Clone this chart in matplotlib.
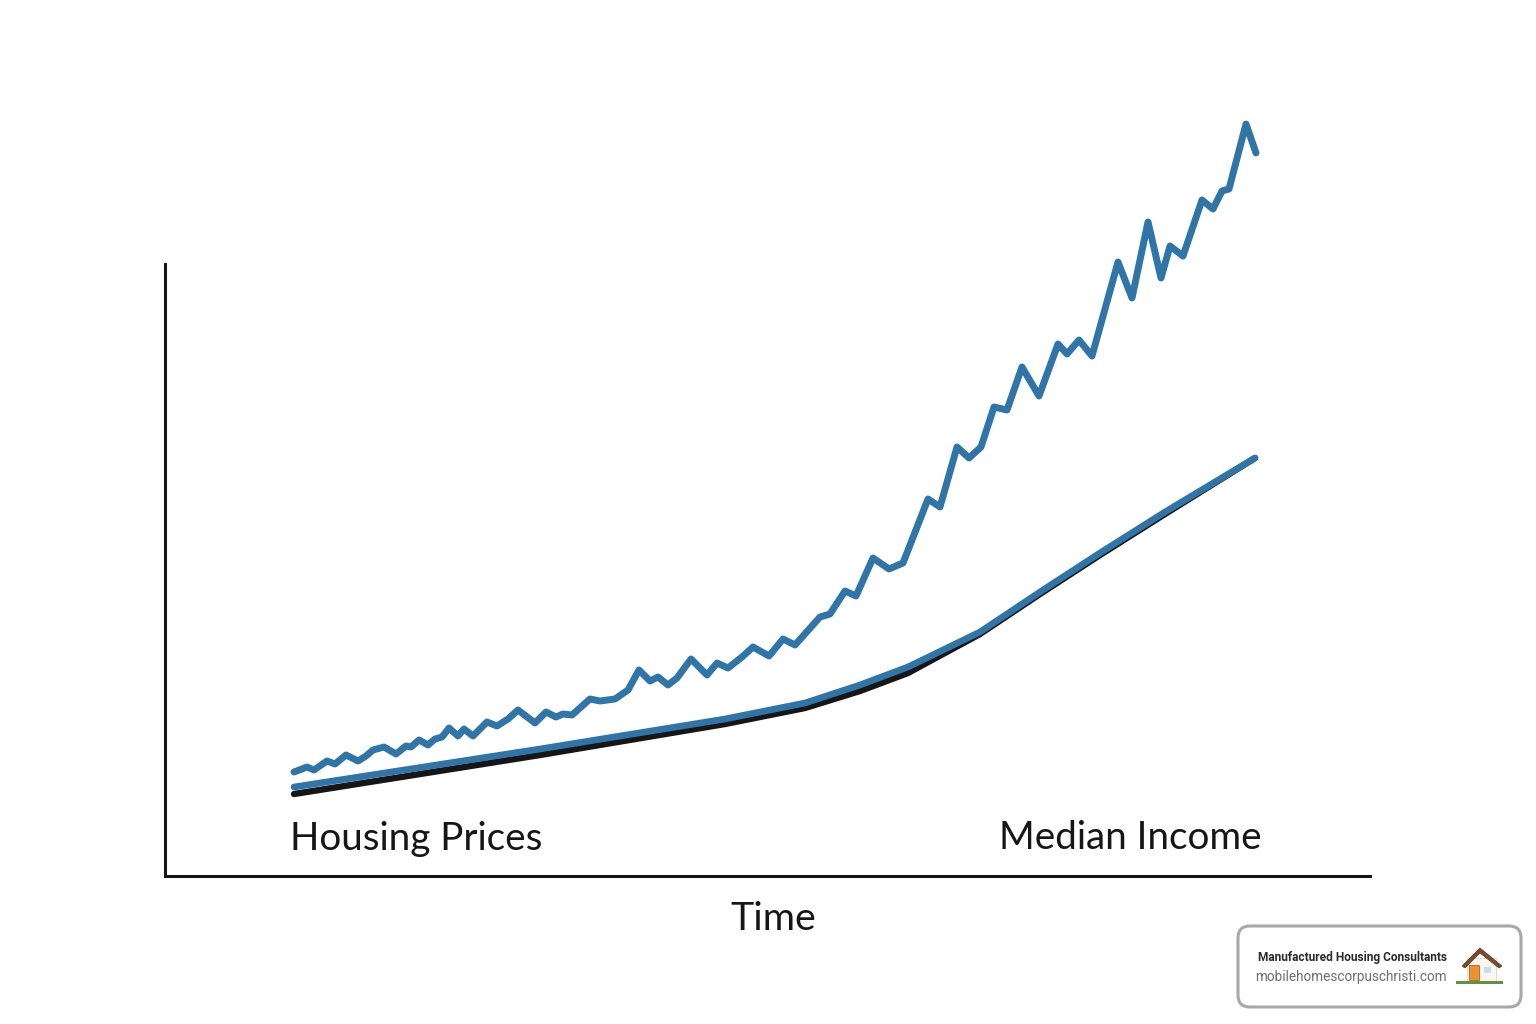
#!/usr/bin/env python3
"""Housing prices vs median income over time"""

import matplotlib
matplotlib.use("Agg")
import matplotlib.pyplot as plt
from matplotlib.patches import FancyBboxPatch, Polygon, Rectangle

# values are in chart units (x right of the y axis, y above the x axis)
housing_x = [129, 142, 149, 162, 170, 181, 193, 201, 208, 219, 231, 241, 246, 254, 263, 270,
             277, 284, 293, 299, 308, 322, 332, 343, 353, 370, 381, 391, 398, 407, 425, 435,
             450, 463, 474, 485, 493, 503, 512, 526, 542, 552, 563, 577, 588, 604, 618, 630,
             655, 665, 680, 691, 708, 724, 738, 763, 775, 792, 804, 816, 829, 842, 857, 874,
             893, 902, 914, 927, 953, 967, 983, 996, 1005, 1018, 1037, 1048, 1057, 1064, 1081, 1091]
housing_y = [104, 109, 106, 115, 112, 121, 115, 120, 126, 129, 122, 130, 129, 136, 131, 137,
             139, 148, 140, 147, 140, 154, 150, 157, 166, 153, 164, 159, 162, 161, 177, 175,
             177, 186, 206, 195, 199, 191, 198, 217, 201, 213, 208, 219, 229, 220, 237, 231,
             259, 262, 285, 280, 318, 307, 313, 377, 369, 429, 418, 429, 469, 466, 509, 480,
             532, 522, 536, 520, 614, 578, 654, 598, 630, 620, 676, 667, 685, 687, 752, 723]

income_x = [129, 375, 560, 640, 695, 743, 815, 875, 935, 1000, 1090]
income_y = [89, 127, 157, 173, 191, 209, 244, 284, 323, 364, 418]
wages_x = [129, 375, 560, 640, 695, 743, 815, 875, 935, 1000, 1090]
wages_y = [82, 121, 152, 168, 185, 203, 242, 282, 321, 362, 418]

BLUE = "#2F75A8"
INK = "#161616"

plt.rcParams["font.family"] = ["Lato", "DejaVu Sans"]

W, H = 1536, 1024
fig = plt.figure(figsize=(W / 100, H / 100), dpi=100, facecolor="white")

# axes box: x axis runs 165..1370 px at y=876, y axis runs up to y=264
ax = fig.add_axes([165 / W, 1 - 876 / H, 1205 / W, 612 / H])
ax.set_xlim(0, 1205)
ax.set_ylim(0, 612)
for side in ("top", "right"):
    ax.spines[side].set_visible(False)
for side in ("left", "bottom"):
    ax.spines[side].set_linewidth(2.2)
    ax.spines[side].set_color(INK)
ax.set_xticks([])
ax.set_yticks([])

ax.plot(wages_x, wages_y, color=INK, lw=4.6, solid_capstyle="round", clip_on=False)
ax.plot(income_x, income_y, color=BLUE, lw=4.8, solid_capstyle="round", clip_on=False)
ax.plot(housing_x, housing_y, color=BLUE, lw=5.0, solid_capstyle="round",
        solid_joinstyle="round", clip_on=False)

ax.text(125, 37, "Housing Prices", fontsize=27.8, color=INK, ha="left", va="center")
ax.text(1097, 38, "Median Income", fontsize=27.8, color=INK, ha="right", va="center")
ax.set_xlabel("Time", fontsize=28.3, color=INK)
ax.xaxis.set_label_coords(608 / 1205, -43 / 612, transform=ax.transAxes)
ax.xaxis.label.set_va("center")

# badge lives on its own overlay in pixel coordinates
badge = fig.add_axes([0, 0, 1, 1], facecolor="none")
badge.set_xlim(0, W)
badge.set_ylim(H, 0)
badge.axis("off")
badge.add_patch(FancyBboxPatch((1238, 926), 283, 81, boxstyle="round,pad=0,rounding_size=12",
                               fc="white", ec="#A8A8A8", lw=2.2))
badge.text(1447, 957, "Manufactured Housing Consultants", fontsize=8.55, fontweight="bold",
           family=["Roboto", "DejaVu Sans"], color="#2B2B2B", ha="right", va="center")
badge.text(1447, 976.5, "mobilehomescorpuschristi.com", fontsize=9.85,
           family=["Roboto", "DejaVu Sans"], color="#6E6E6E", ha="right", va="center")

# small house icon
badge.add_patch(Rectangle((1467, 958), 29, 23, fc="#FBF6EF", ec="#E2D6C6", lw=0.6))
badge.add_patch(Rectangle((1469, 965), 10, 15, fc="#EE9230", ec="#B5651D", lw=0.6))
badge.add_patch(Rectangle((1484, 967), 7, 6, fc="#BFE0EC", ec="none"))
badge.add_patch(Polygon([(1462, 966), (1480, 948), (1502, 966), (1499, 968), (1480, 953), (1465, 968)],
                        closed=True, fc="#7A4A2E", ec="#5E3A24", lw=0.5))
badge.add_patch(Rectangle((1456, 981), 47, 2.5, fc="#5E9440", ec="none"))

fig.savefig("out.png", dpi=100, facecolor="white")
